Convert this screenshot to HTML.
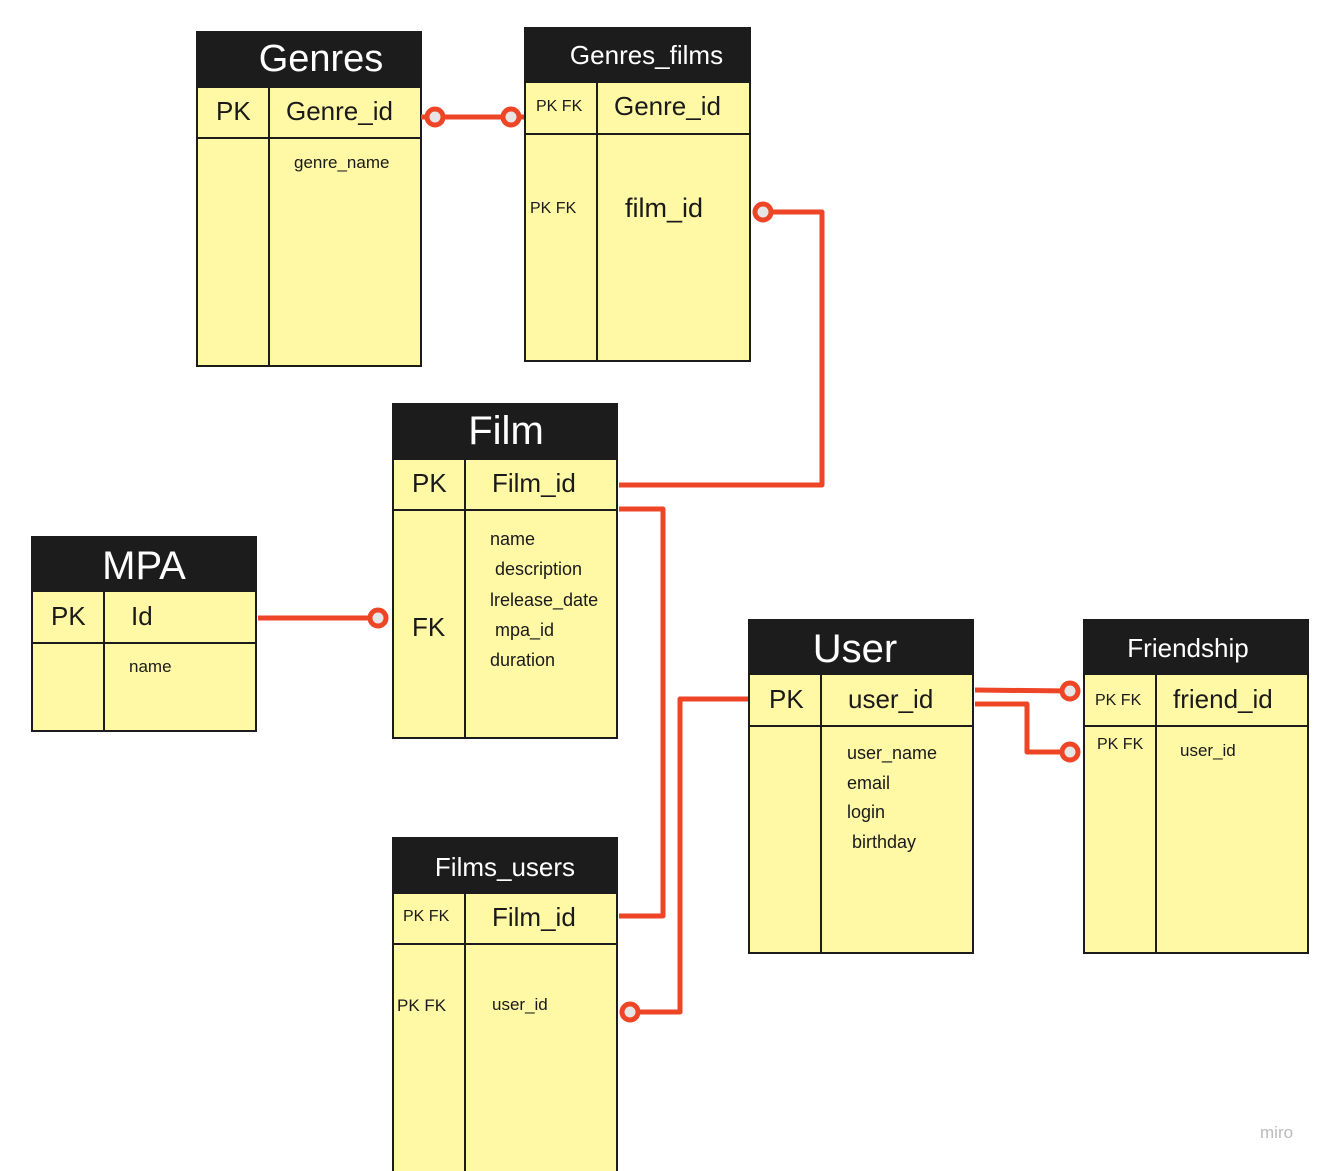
<!DOCTYPE html>
<html style="margin:0;width:1333px;height:1171px;overflow:hidden"><head><meta charset="utf-8"><style>
body{margin:0;width:1333px;height:1171px;background:#fff;position:relative;overflow:hidden;font-family:"Liberation Sans",sans-serif;color:#1a1a1a}
.b{position:absolute;background:#fff9a6;border:2px solid #1c1c1c;box-sizing:border-box}
.h{position:absolute;background:#1c1c1c;color:#fff;text-align:center}
.l{position:absolute;background:#1c1c1c}
.t{position:absolute;white-space:nowrap}
</style></head><body>

<!-- Genres -->
<div class="b" style="left:196px;top:31px;width:226px;height:336px"></div>
<div class="h" style="left:196px;top:31px;width:226px;height:57px;font-size:38px;line-height:57px;padding-left:24px;box-sizing:border-box">Genres</div>
<div class="l" style="left:196px;top:137px;width:226px;height:2px"></div>
<div class="l" style="left:268px;top:88px;width:2px;height:278px"></div>
<div class="t" style="left:216px;top:96px;font-size:26px">PK</div>
<div class="t" style="left:286px;top:96px;font-size:26px">Genre_id</div>
<div class="t" style="left:294px;top:153px;font-size:17px">genre_name</div>

<!-- Genres_films -->
<div class="b" style="left:524px;top:27px;width:227px;height:335px"></div>
<div class="h" style="left:524px;top:27px;width:227px;height:56px;font-size:26px;line-height:56px;padding-left:18px;box-sizing:border-box">Genres_films</div>
<div class="l" style="left:524px;top:133px;width:227px;height:2px"></div>
<div class="l" style="left:596px;top:83px;width:2px;height:278px"></div>
<div class="t" style="left:536px;top:98px;font-size:16px">PK FK</div>
<div class="t" style="left:614px;top:91px;font-size:26px">Genre_id</div>
<div class="t" style="left:530px;top:200px;font-size:16px">PK FK</div>
<div class="t" style="left:625px;top:193px;font-size:27px">film_id</div>

<!-- Film -->
<div class="b" style="left:392px;top:403px;width:226px;height:336px"></div>
<div class="h" style="left:392px;top:403px;width:226px;height:57px;font-size:40px;line-height:57px;padding-left:2px;box-sizing:border-box">Film</div>
<div class="l" style="left:392px;top:509px;width:226px;height:2px"></div>
<div class="l" style="left:464px;top:460px;width:2px;height:278px"></div>
<div class="t" style="left:412px;top:468px;font-size:26px">PK</div>
<div class="t" style="left:492px;top:468px;font-size:26px">Film_id</div>
<div class="t" style="left:412px;top:612px;font-size:26px">FK</div>
<div class="t" style="left:490px;top:524px;font-size:18px;line-height:30.3px">name<br>&nbsp;description<br>lrelease_date<br>&nbsp;mpa_id<br>duration</div>

<!-- MPA -->
<div class="b" style="left:31px;top:536px;width:226px;height:196px"></div>
<div class="h" style="left:31px;top:536px;width:226px;height:56px;font-size:40px;line-height:60px">MPA</div>
<div class="l" style="left:31px;top:642px;width:226px;height:2px"></div>
<div class="l" style="left:103px;top:592px;width:2px;height:139px"></div>
<div class="t" style="left:51px;top:601px;font-size:26px">PK</div>
<div class="t" style="left:131px;top:601px;font-size:26px">Id</div>
<div class="t" style="left:129px;top:657px;font-size:17px">name</div>

<!-- User -->
<div class="b" style="left:748px;top:619px;width:226px;height:335px"></div>
<div class="h" style="left:748px;top:619px;width:226px;height:56px;font-size:40px;line-height:60px;padding-right:12px;box-sizing:border-box">User</div>
<div class="l" style="left:748px;top:725px;width:226px;height:2px"></div>
<div class="l" style="left:820px;top:675px;width:2px;height:278px"></div>
<div class="t" style="left:769px;top:684px;font-size:26px">PK</div>
<div class="t" style="left:848px;top:684px;font-size:26px">user_id</div>
<div class="t" style="left:847px;top:739px;font-size:18px;line-height:29.7px">user_name<br>email<br>login<br>&nbsp;birthday</div>

<!-- Friendship -->
<div class="b" style="left:1083px;top:619px;width:226px;height:335px"></div>
<div class="h" style="left:1083px;top:619px;width:226px;height:56px;font-size:26px;line-height:58px;padding-right:16px;box-sizing:border-box">Friendship</div>
<div class="l" style="left:1083px;top:725px;width:226px;height:2px"></div>
<div class="l" style="left:1155px;top:675px;width:2px;height:278px"></div>
<div class="t" style="left:1095px;top:692px;font-size:16px">PK FK</div>
<div class="t" style="left:1173px;top:684px;font-size:26px">friend_id</div>
<div class="t" style="left:1097px;top:736px;font-size:16px">PK FK</div>
<div class="t" style="left:1180px;top:741px;font-size:17px">user_id</div>

<!-- Films_users -->
<div class="b" style="left:392px;top:837px;width:226px;height:334px;border-bottom:none"></div>
<div class="h" style="left:392px;top:837px;width:226px;height:57px;font-size:26px;line-height:60px">Films_users</div>
<div class="l" style="left:392px;top:943px;width:226px;height:2px"></div>
<div class="l" style="left:464px;top:894px;width:2px;height:277px"></div>
<div class="t" style="left:403px;top:908px;font-size:16px">PK FK</div>
<div class="t" style="left:492px;top:902px;font-size:26px">Film_id</div>
<div class="t" style="left:397px;top:996px;font-size:17px">PK FK</div>
<div class="t" style="left:492px;top:995px;font-size:17px">user_id</div>

<div class="t" style="left:1260px;top:1123px;font-size:17px;color:#bbb">miro</div>

<svg width="1333" height="1171" style="position:absolute;left:0;top:0" fill="none" stroke="#ee4527" stroke-width="5" stroke-linejoin="round">
<path d="M421 117H524"/>
<path d="M771 212H822V485H619"/>
<path d="M619 509H663V916H619"/>
<path d="M258 618H378"/>
<path d="M748 699H680V1012H630"/>
<path d="M975 690L1070 691"/>
<path d="M975 704H1027V752H1070"/>
<g fill="#e6e6e6" stroke-width="5">
<circle cx="435" cy="117" r="8"/>
<circle cx="511" cy="117" r="8"/>
<circle cx="763" cy="212" r="8"/>
<circle cx="378" cy="618" r="8"/>
<circle cx="630" cy="1012" r="8"/>
<circle cx="1070" cy="691" r="8"/>
<circle cx="1070" cy="752" r="8"/>
</g>
</svg>
</body></html>
